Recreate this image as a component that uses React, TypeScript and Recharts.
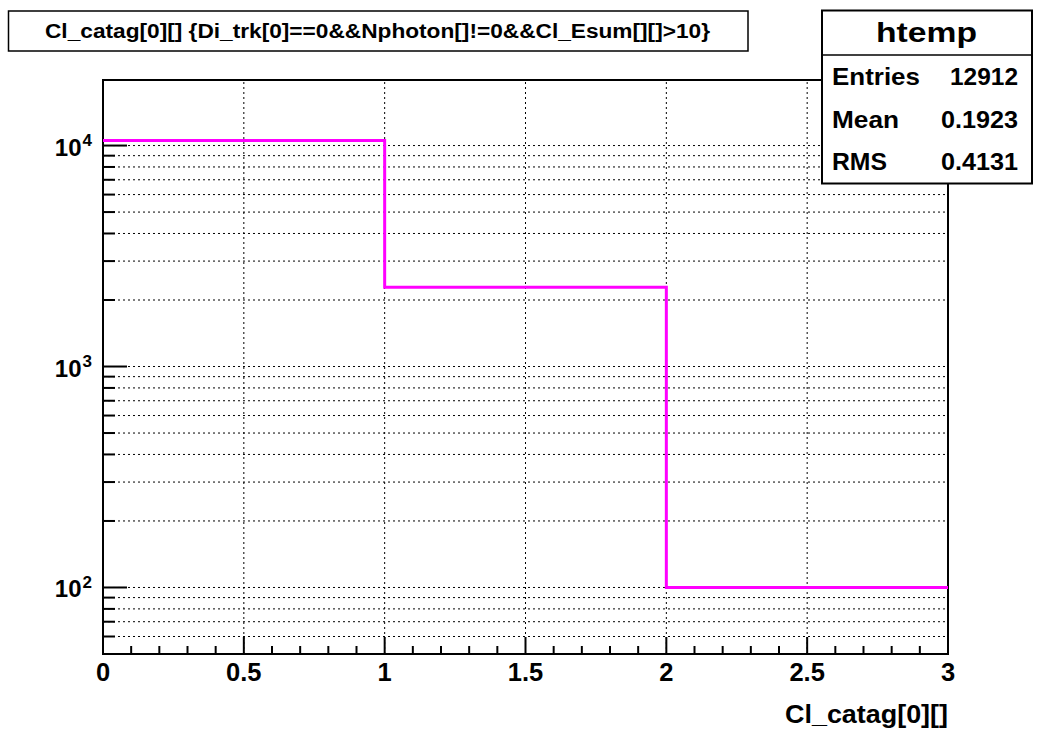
import React from 'react';
import { ComposedChart, Line, XAxis, YAxis, ReferenceLine, ReferenceArea } from 'recharts';

// histogram of Cl_catag[0][] (bin edges and bin contents)
const BIN_EDGES = [0, 1, 2, 3];
const BIN_COUNTS = [10529, 2283, 100];

const X_TICKS = [
  0, 0.1, 0.2, 0.3, 0.4, 0.5, 0.6, 0.7, 0.8, 0.9, 1, 1.1, 1.2, 1.3, 1.4, 1.5, 1.6, 1.7, 1.8, 1.9, 2,
  2.1, 2.2, 2.3, 2.4, 2.5, 2.6, 2.7, 2.8, 2.9, 3,
];
const X_GRID = [0.5, 1, 1.5, 2, 2.5];
const Y_TICKS = [
  60, 70, 80, 90, 100, 200, 300, 400, 500, 600, 700, 800, 900, 1000, 2000, 3000, 4000, 5000, 6000,
  7000, 8000, 9000, 10000,
];
const Y_MAJOR = [100, 1000, 10000];
const Y_DOMAIN = [50, 19800];

const TITLE = 'Cl_catag[0][] {Di_trk[0]==0&&Nphoton[]!=0&&Cl_Esum[][]>10}';
const X_TITLE = 'Cl_catag[0][]';
const STATS_NAME = 'htemp';
const STAT_LABELS = ['Entries', 'Mean', 'RMS'];
const STAT_VALUES = ['12912', '0.1923', '0.4131'];
// widths the stats texts take up in the picture
const STAT_LABEL_W = [88, 67, 55];
const STAT_VALUE_W = [68, 77, 77];

const FONT = '"Liberation Sans", Arial, Helvetica, sans-serif';
const Y_TICK_MARGIN = 11;

const data = BIN_EDGES.map((edge, i) => ({
  edge,
  count: BIN_COUNTS[Math.min(i, BIN_COUNTS.length - 1)],
}));

function YTick(props: any) {
  const { x, y, payload } = props;
  const v = payload.value;
  const major = Y_MAJOR.includes(v);
  const axisX = x + Y_TICK_MARGIN;
  const exp = Math.round(Math.log10(v));
  return (
    <g>
      <line x1={axisX} x2={axisX + (major ? 24 : 12)} y1={y} y2={y} stroke="#000" strokeWidth={2} />
      {major && (
        <text x={x} y={y + 10} textAnchor="end" fontFamily={FONT} fontWeight="bold" fontSize={24} fill="#000">
          <tspan>10</tspan>
          <tspan dx={1} dy={-9.5} fontSize={17}>
            {exp}
          </tspan>
        </text>
      )}
    </g>
  );
}

function XTick(props: any) {
  const { x, y, payload } = props;
  const v = payload.value;
  const major = Math.abs(v * 2 - Math.round(v * 2)) < 1e-6;
  return (
    <g>
      <line x1={x} x2={x} y1={y} y2={y - (major ? 17 : 8)} stroke="#000" strokeWidth={2} />
      {major && (
        <text x={x} y={y + 27} textAnchor="middle" fontFamily={FONT} fontWeight="bold" fontSize={25.5} fill="#000">
          {String(Math.round(v * 10) / 10)}
        </text>
      )}
    </g>
  );
}

export default function App() {
  return (
    <div style={{ position: 'absolute', left: 0, top: 0, width: 1042, height: 744, background: '#fff' }}>
      <ComposedChart width={1042} height={744} data={data} margin={{ top: 80, right: 94, left: 0, bottom: 0 }}>
        <XAxis
          dataKey="edge"
          type="number"
          domain={[0, 3]}
          ticks={X_TICKS}
          interval={0}
          allowDataOverflow
          height={90}
          axisLine={false}
          tickLine={false}
          tickSize={0}
          tickMargin={0}
          tick={<XTick />}
        />
        <YAxis
          type="number"
          scale="log"
          domain={Y_DOMAIN}
          ticks={Y_TICKS}
          interval={0}
          allowDataOverflow
          width={103}
          axisLine={false}
          tickLine={false}
          tickSize={0}
          tickMargin={Y_TICK_MARGIN}
          tick={<YTick />}
        />
        {Y_TICKS.map((v) => (
          <ReferenceLine key={'h' + v} y={v} stroke="#000" strokeWidth={1} strokeDasharray="2 3" />
        ))}
        {X_GRID.map((v) => (
          <ReferenceLine key={'v' + v} x={v} stroke="#000" strokeWidth={1} strokeDasharray="2 3" />
        ))}
        <Line
          type="stepAfter"
          dataKey="count"
          stroke="#ff00ff"
          strokeWidth={3}
          dot={false}
          activeDot={false}
          isAnimationActive={false}
        />
        <ReferenceArea
          x1={0}
          x2={3}
          y1={Y_DOMAIN[0]}
          y2={Y_DOMAIN[1]}
          fill="none"
          stroke="#000"
          strokeWidth={2}
          ifOverflow="visible"
        />
      </ComposedChart>
      <svg
        width={1042}
        height={744}
        style={{ position: 'absolute', left: 0, top: 0, pointerEvents: 'none' }}
      >
        {/* title box */}
        <rect x={8.5} y={11} width={739.5} height={40} fill="#fff" stroke="#000" strokeWidth={1.5} />
        <text
          x={45}
          y={38}
          fontFamily={FONT}
          fontWeight="bold"
          fontSize={20}
          textLength={665}
          lengthAdjust="spacingAndGlyphs"
          fill="#000"
        >
          {TITLE}
        </text>
        {/* stats box */}
        <rect x={822} y={10.5} width={210} height={173} fill="#fff" stroke="#000" strokeWidth={2} />
        <line x1={822} x2={1032} y1={55} y2={55} stroke="#000" strokeWidth={1.5} />
        <text
          x={876}
          y={42}
          fontFamily={FONT}
          fontWeight="bold"
          fontSize={28}
          textLength={101}
          lengthAdjust="spacingAndGlyphs"
          fill="#000"
        >
          {STATS_NAME}
        </text>
        {STAT_LABELS.map((label, i) => (
          <g key={label}>
            <text
              x={832}
              y={85 + i * 42.5}
              fontFamily={FONT}
              fontWeight="bold"
              fontSize={24}
              textLength={STAT_LABEL_W[i]}
              lengthAdjust="spacingAndGlyphs"
              fill="#000"
            >
              {label}
            </text>
            <text
              x={1018 - STAT_VALUE_W[i]}
              y={85 + i * 42.5}
              fontFamily={FONT}
              fontWeight="bold"
              fontSize={24}
              textLength={STAT_VALUE_W[i]}
              lengthAdjust="spacingAndGlyphs"
              fill="#000"
            >
              {STAT_VALUES[i]}
            </text>
          </g>
        ))}
        {/* x axis title */}
        <text
          x={785}
          y={723}
          fontFamily={FONT}
          fontWeight="bold"
          fontSize={25}
          textLength={163}
          lengthAdjust="spacingAndGlyphs"
          fill="#000"
        >
          {X_TITLE}
        </text>
      </svg>
    </div>
  );
}
